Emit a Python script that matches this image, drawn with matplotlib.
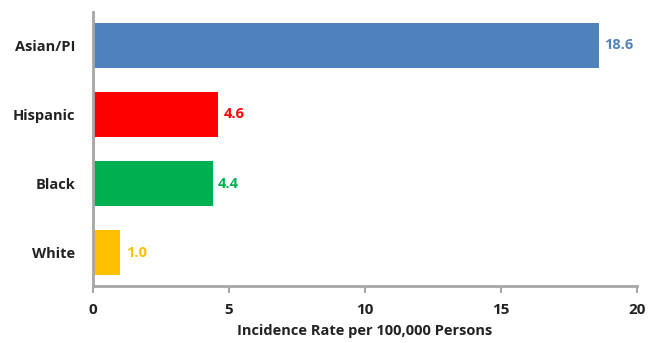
import matplotlib
matplotlib.use("Agg")
import matplotlib.pyplot as plt

groups = ["Asian/PI", "Hispanic", "Black", "White"]
rates = [18.6, 4.6, 4.4, 1.0]
colors = ["#4F81BD", "#FF0000", "#00B050", "#FFC000"]
xticks = [0, 5, 10, 15, 20]
xlabel = "Incidence Rate per 100,000 Persons"

plt.rcParams["font.family"] = ["Open Sans", "DejaVu Sans"]

fig = plt.figure(figsize=(6.6, 3.43), dpi=100)
ax = fig.add_axes([0.141, 0.166, 0.824, 0.799])

pos = list(range(len(groups)))
ax.barh(pos, rates, height=0.65, color=colors, zorder=2)
for p, r, c in zip(pos, rates, colors):
    ax.text(r + 0.2, p, f"{r:.1f}", color=c, fontsize=10.5, fontweight="bold",
            va="center", ha="left")

ax.set_xlim(0, 20)
ax.set_ylim(3.48, -0.48)
ax.set_xticks(xticks)
ax.set_xticklabels([str(t) for t in xticks], fontsize=11, fontweight="bold", color="#222222")
ax.set_yticks(pos)
ax.set_yticklabels(groups, fontsize=10.5, fontweight="bold", color="#222222")
ax.tick_params(axis="y", length=0, pad=13)
ax.tick_params(axis="x", length=5, width=1.5, color="#A6A6A6", pad=7, direction="out")
ax.set_xlabel(xlabel, fontsize=10.5, fontweight="bold", color="#222222", labelpad=5)

for s in ["top", "right"]:
    ax.spines[s].set_visible(False)
for s in ["left", "bottom"]:
    ax.spines[s].set_color("#A6A6A6")
    ax.spines[s].set_linewidth(2)

fig.savefig("out.png", dpi=100)
